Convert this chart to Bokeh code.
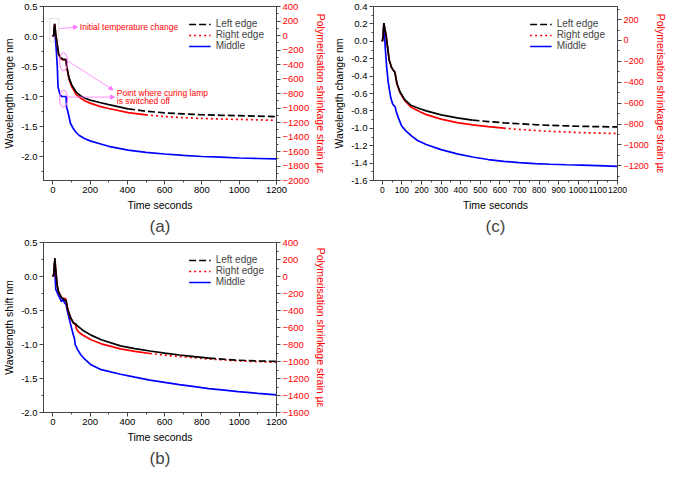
import numpy as np
from bokeh.plotting import figure
from bokeh.models import (Range1d, LinearAxis, Title, Legend, LegendItem, BoxAnnotation,
                          Label, Arrow, NormalHead, SingleIntervalTicker, NumeralTickFormatter)
from bokeh.layouts import column, row
from bokeh.embed import file_html
from bokeh.resources import INLINE

FONT = "Liberation Sans"
PINK = "#ff77ff"

# ---------------- data: panel (a) ----------------
a_t_left = [0, 5, 10, 16, 24, 31, 44, 55, 71, 74, 87, 102, 126, 150, 173, 200, 252, 300, 404, 500, 600, 700, 800, 900, 1000, 1100, 1200]
a_left = [0, 0.03, 0.21, 0.03, -0.13, -0.29, -0.36, -0.38, -0.38, -0.49, -0.69, -0.81, -0.93, -0.99, -1.03, -1.06, -1.10, -1.135, -1.205, -1.245, -1.273, -1.29, -1.304, -1.313, -1.32, -1.328, -1.335]
a_t_right = a_t_left
a_right = [0, 0.03, 0.21, 0.03, -0.14, -0.30, -0.37, -0.39, -0.39, -0.50, -0.71, -0.84, -0.97, -1.03, -1.075, -1.11, -1.164, -1.20, -1.268, -1.305, -1.335, -1.352, -1.366, -1.375, -1.382, -1.39, -1.397]
a_t_mid = [0, 5, 9, 13, 19, 24, 28, 39, 47, 71, 74, 79, 95, 107, 125, 142, 170, 200, 252, 300, 404, 500, 600, 700, 800, 900, 1000, 1100, 1200]
a_mid = [0, 0.02, 0.19, 0.0, -0.245, -0.50, -0.84, -0.97, -1.0, -1.0, -1.18, -1.23, -1.45, -1.52, -1.60, -1.65, -1.70, -1.74, -1.787, -1.83, -1.895, -1.93, -1.958, -1.98, -2.0, -2.012, -2.025, -2.033, -2.04]

# ---------------- data: panel (c) ----------------
c_t_edge = [0, 4, 8, 13, 19, 27, 35, 47, 58, 63, 68, 74, 90, 114, 145, 192, 224, 300, 382, 460, 540, 620, 698, 780, 856, 940, 1014, 1100, 1200]
c_left = [0, 0.05, 0.21, 0.14, 0.075, -0.07, -0.215, -0.30, -0.34, -0.35, -0.40, -0.48, -0.58, -0.67, -0.735, -0.775, -0.80, -0.845, -0.88, -0.905, -0.923, -0.937, -0.948, -0.958, -0.966, -0.972, -0.977, -0.981, -0.984]
c_right = [0, 0.05, 0.21, 0.14, 0.075, -0.07, -0.215, -0.30, -0.34, -0.35, -0.40, -0.485, -0.59, -0.68, -0.755, -0.81, -0.843, -0.895, -0.934, -0.96, -0.98, -0.998, -1.013, -1.025, -1.035, -1.043, -1.049, -1.055, -1.06]
c_t_mid = [0, 4, 8, 12, 16, 22, 30, 43, 53, 60, 66, 70, 82, 98, 120, 150, 180, 224, 300, 382, 460, 540, 620, 698, 780, 856, 940, 1014, 1100, 1200]
c_mid = [0, 0.05, 0.21, 0.05, -0.106, -0.29, -0.47, -0.65, -0.72, -0.74, -0.755, -0.80, -0.88, -0.97, -1.03, -1.09, -1.14, -1.186, -1.245, -1.294, -1.33, -1.359, -1.38, -1.395, -1.405, -1.413, -1.419, -1.424, -1.43, -1.438]

# ---------------- data: panel (b) ----------------
b_t_left = [0, 5, 11, 15, 19, 24, 31, 47, 63, 71, 79, 95, 110, 123, 134, 160, 205, 260, 363, 440, 521, 600, 679, 760, 837, 920, 995, 1100, 1200]
b_left = [0, 0.03, 0.27, 0.12, 0.0, -0.14, -0.23, -0.31, -0.345, -0.35, -0.47, -0.60, -0.68, -0.70, -0.73, -0.79, -0.862, -0.93, -1.02, -1.06, -1.096, -1.127, -1.154, -1.178, -1.20, -1.217, -1.231, -1.242, -1.249]
b_t_right = [0, 5, 11, 15, 19, 24, 31, 47, 63, 68, 71, 79, 95, 110, 122, 128, 140, 160, 205, 260, 363, 440, 521, 600, 679, 760, 837, 920, 995, 1100, 1200]
b_right = [0, 0.03, 0.25, 0.12, 0.0, -0.14, -0.23, -0.31, -0.33, -0.32, -0.36, -0.48, -0.61, -0.68, -0.71, -0.78, -0.82, -0.86, -0.93, -0.99, -1.065, -1.10, -1.132, -1.156, -1.177, -1.196, -1.213, -1.228, -1.24, -1.252, -1.262]
b_t_mid = [0, 5, 9, 12, 16, 31, 47, 55, 63, 71, 79, 95, 110, 116, 120, 134, 150, 173, 205, 260, 363, 440, 521, 600, 679, 760, 837, 920, 995, 1100, 1200]
b_mid = [0, 0.02, 0.20, 0.02, -0.19, -0.28, -0.37, -0.33, -0.39, -0.41, -0.52, -0.70, -0.86, -0.91, -1.0, -1.08, -1.15, -1.22, -1.298, -1.37, -1.437, -1.48, -1.523, -1.558, -1.59, -1.62, -1.649, -1.672, -1.694, -1.718, -1.74]

series_labels = ["Left edge", "Right edge", "Middle"]
y2_title = "Polymerisation shrinkage strain µε"
x_title = "Time seconds"

# annotation positions for panel (a)
a_box = dict(left=-16, right=32, top=0.30, bottom=-0.09)
a_ellipses_x = [57.5, 57.5]
a_ellipses_y = [-0.42, -1.037]
a_ell_w = 43
a_ell_h = [0.30, 0.285]


def style_axis(ax, color="black", size="9.5px"):
    ax.axis_line_color = "#444444"
    ax.major_tick_line_color = "#444444"
    ax.minor_tick_line_color = "#444444"
    ax.major_tick_out = 4
    ax.major_tick_in = 0
    ax.minor_tick_out = 2
    ax.minor_tick_in = 0
    ax.major_label_text_font = FONT
    ax.major_label_text_font_size = size
    ax.major_label_text_color = color
    ax.major_label_standoff = 2
    ax.axis_label_text_font = FONT
    ax.axis_label_text_font_size = "10.5px"
    ax.axis_label_text_font_style = "normal"
    ax.axis_label_text_color = color
    ax.axis_label_standoff = 3


def draw(p, t, v, color, cut, dash, width=1.7):
    t = np.asarray(t, dtype=float)
    v = np.asarray(v, dtype=float)
    if cut is None:
        return p.line(t, v, line_color=color, line_width=width)
    i = int(np.searchsorted(t, cut))
    p.line(t[:i + 1], v[:i + 1], line_color=color, line_width=width)
    return p.line(t[i:], v[i:], line_color=color, line_width=width, line_dash=dash)


def panel(width, height, xr, yr, y2r, ytitle, xint, yint, y2int, data, cuts, label,
          min_left, min_right, xsize="9.5px", y2size="9.5px"):
    p = figure(width=width, height=height, output_backend="svg", toolbar_location=None,
               x_range=Range1d(*xr), y_range=Range1d(*yr),
               min_border_left=min_left, min_border_right=min_right,
               min_border_top=6, min_border_bottom=4)
    p.extra_y_ranges = {"strain": Range1d(*y2r)}
    p.grid.visible = False
    p.outline_line_color = "#444444"
    p.outline_line_width = 1
    p.background_fill_color = "white"
    p.border_fill_color = "white"

    p.xaxis.ticker = SingleIntervalTicker(interval=xint, num_minor_ticks=2)
    p.yaxis.ticker = SingleIntervalTicker(interval=yint, num_minor_ticks=2)
    p.yaxis.formatter = NumeralTickFormatter(format="0.0")
    p.xaxis.axis_label = x_title
    p.yaxis.axis_label = ytitle
    style_axis(p.xaxis[0], size=xsize)
    style_axis(p.yaxis[0])

    ax2 = LinearAxis(y_range_name="strain", axis_label=y2_title,
                     ticker=SingleIntervalTicker(interval=y2int, num_minor_ticks=2))
    style_axis(ax2, color="red", size=y2size)
    p.add_layout(ax2, "right")

    (tl, vl), (tr, vr), (tm, vm) = data
    r_mid = draw(p, tm, vm, "#0000ff", None, None)
    r_right = draw(p, tr, vr, "#ff0000", cuts[1], "2 3")
    r_left = draw(p, tl, vl, "black", cuts[0], "7 3")

    leg = Legend(items=[LegendItem(label=series_labels[0], renderers=[r_left]),
                        LegendItem(label=series_labels[1], renderers=[r_right]),
                        LegendItem(label=series_labels[2], renderers=[r_mid])],
                 location="top_right")
    leg.background_fill_alpha = 0
    leg.border_line_alpha = 0
    leg.label_text_font = FONT
    leg.label_text_font_size = "10px"
    leg.glyph_width = 22
    leg.glyph_height = 10
    leg.label_height = 10
    leg.label_standoff = 5
    leg.spacing = 0
    leg.padding = 2
    leg.margin = 10
    p.add_layout(leg)

    p.add_layout(Title(text=label, align="center", text_font=FONT, text_font_size="17px",
                       text_font_style="normal", standoff=2), "below")
    return p


pa = panel(330, 236, (-50, 1200), (-2.4, 0.5), (-2000, 400), "Wavelength change nm",
           200, 0.5, 200,
           [(a_t_left, a_left), (a_t_right, a_right), (a_t_mid, a_mid)], (360, 420), "(a)",
           30, 40)

# annotations on (a)
pa.add_layout(BoxAnnotation(fill_alpha=0, line_color="#999999", line_width=1, **a_box))
pa.ellipse(x=a_ellipses_x, y=a_ellipses_y, width=a_ell_w, height=a_ell_h,
           fill_alpha=0, line_color=PINK, line_width=1)
for (xs, ys, xe, ye) in [(32, 0.13, 132, 0.16), (71, -0.39, 323, -0.89), (79, -1.01, 331, -1.01)]:
    pa.add_layout(Arrow(end=NormalHead(size=4, fill_color=PINK, line_color=PINK),
                        x_start=xs, y_start=ys, x_end=xe, y_end=ye,
                        line_color=PINK, line_width=0.8))
for (tx, ty, txt) in [(145, 0.16, "Initial temperature change"),
                      (343, -0.935, "Point where curing lamp"),
                      (343, -1.075, "is switched off")]:
    pa.add_layout(Label(x=tx, y=ty, text=txt, text_color="red", text_font=FONT,
                        text_font_size="8.5px", text_baseline="middle"))

pc = panel(339, 236, (-45, 1200), (-1.6, 0.4), (-1340, 325), "Wavelength change nm",
           100, 0.2, 200,
           [(c_t_edge, c_left), (c_t_edge, c_right), (c_t_mid, c_mid)], (450, 600), "(c)",
           36, 36, xsize="8.5px", y2size="9px")

pb = panel(330, 232, (-50, 1200), (-2.0, 0.5), (-1600, 400), "Wavelength shift nm",
           200, 0.5, 200,
           [(b_t_left, b_left), (b_t_right, b_right), (b_t_mid, b_mid)], (800, 500), "(b)",
           30, 40)

layout = column(row(pa, pc), pb)
open("out.html", "w").write(file_html(layout, INLINE))
